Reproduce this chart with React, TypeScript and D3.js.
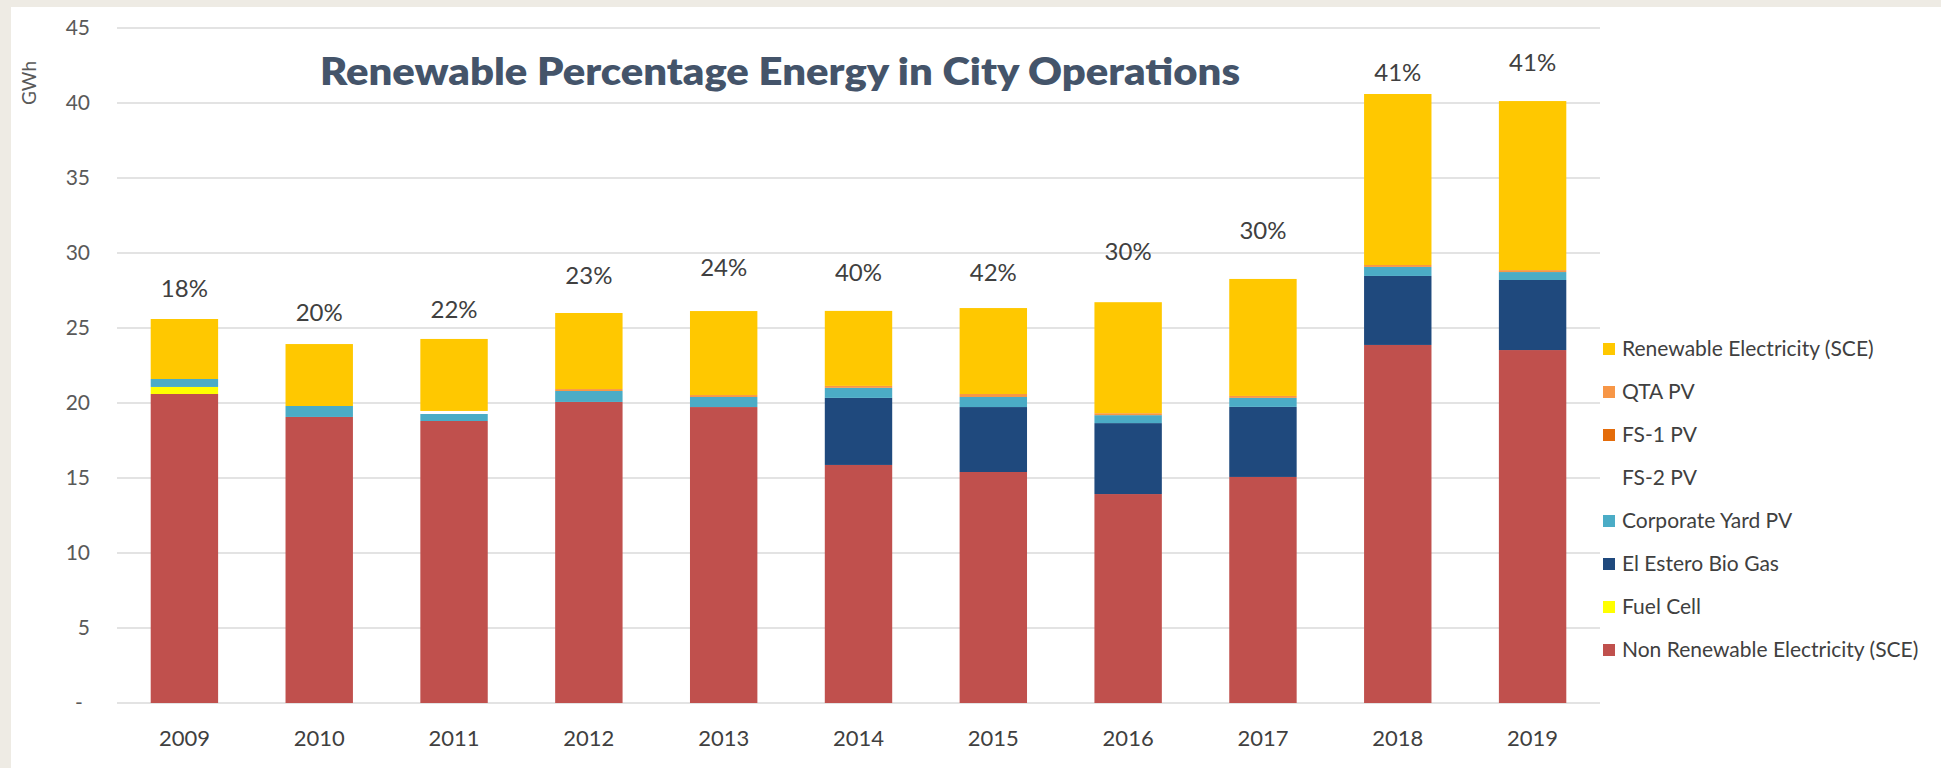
import React from "react";
import * as d3 from "d3";

const years = ["2009", "2010", "2011", "2012", "2013", "2014", "2015", "2016", "2017", "2018", "2019"];
const nonRenewable = [20.6, 19.07, 18.8, 20.07, 19.73, 15.87, 15.4, 13.93, 15.07, 23.87, 23.53];
const fuelCell = [0.47, 0, 0, 0, 0, 0, 0, 0, 0, 0, 0];
const elEstero = [0, 0, 0, 0, 0, 4.47, 4.33, 4.73, 4.67, 4.6, 4.67];
const corporateYard = [0.53, 0.73, 0.47, 0.73, 0.67, 0.67, 0.67, 0.53, 0.6, 0.6, 0.53];
const fs2 = [0, 0, 0.2, 0, 0, 0, 0, 0, 0, 0, 0];
const fs1 = [0, 0, 0, 0, 0, 0, 0, 0, 0, 0, 0];
const qta = [0, 0, 0, 0.13, 0.13, 0.13, 0.2, 0.13, 0.13, 0.13, 0.13];
const renewable = [4.0, 4.13, 4.8, 5.07, 5.6, 5.0, 5.73, 7.4, 7.8, 11.4, 11.27];

const percentLabels = ["18%", "20%", "22%", "23%", "24%", "40%", "42%", "30%", "30%", "41%", "41%"];
// label heights expressed in GWh (as placed in the source chart)
const percentLabelLevel = [27.6, 26.0, 26.2, 28.5, 29.0, 28.7, 28.7, 30.1, 31.5, 42.0, 42.7];

const yTicks = [0, 5, 10, 15, 20, 25, 30, 35, 40, 45];

const seriesNames = [
  "Non Renewable Electricity (SCE)",
  "Fuel Cell",
  "El Estero Bio Gas",
  "Corporate Yard PV",
  "FS-2 PV",
  "FS-1 PV",
  "QTA PV",
  "Renewable Electricity (SCE)",
];
const seriesValues = [nonRenewable, fuelCell, elEstero, corporateYard, fs2, fs1, qta, renewable];
const seriesColors = ["#C0504D", "#FFFF00", "#1F497D", "#4BACC6", "#FFFFFF", "#E46C0A", "#F79646", "#FFC800"];

const W = 1941;
const H = 768;

export default function App() {
  const x = d3.scaleBand<string>().domain(years).range([117, 1600]).paddingInner(0.5).paddingOuter(0.25);
  const y = d3.scaleLinear().domain([0, 45]).range([703, 28]);

  const rows = years.map((yr, i) => {
    const r: Record<string, any> = { year: yr };
    seriesNames.forEach((n, k) => (r[n] = seriesValues[k][i]));
    return r;
  });
  const stacked = d3.stack<any>().keys(seriesNames)(rows);

  const legendOrder = seriesNames.slice().reverse();
  const legendY = d3.scalePoint<string>().domain(legendOrder).range([349, 650]);

  const font = "Lato, 'Open Sans', sans-serif";

  return (
    <svg width={W} height={H} style={{ position: "absolute", left: 0, top: 0, display: "block" }}>
      <rect x={0} y={0} width={W} height={H} fill="#EEEBE4" />
      <rect x={11} y={7} width={W - 11} height={H - 7} fill="#FFFFFF" />

      {yTicks.map((t) => (
        <g key={t}>
          <line x1={117} x2={1600} y1={y(t)} y2={y(t)} stroke="#E3E3E3" strokeWidth={2} />
          <text
            x={t === 0 ? 79 : 90}
            y={y(t)}
            dy="0.35em"
            textAnchor={t === 0 ? "middle" : "end"}
            fontFamily={font}
            fontSize={21}
            fill="#595959"
          >
            {t === 0 ? "-" : t}
          </text>
        </g>
      ))}

      <text
        transform={`translate(29, 83) rotate(-90)`}
        textAnchor="middle"
        dy="0.35em"
        fontFamily={font}
        fontSize={19}
        fill="#595959"
      >
        GWh
      </text>

      {stacked.map((s, k) => (
        <g key={s.key} fill={seriesColors[k]}>
          {s.map((d, i) =>
            d[1] - d[0] > 0 ? (
              <rect
                key={i}
                x={x(years[i])!}
                width={x.bandwidth()}
                y={y(d[1])}
                height={y(d[0]) - y(d[1])}
              />
            ) : null
          )}
        </g>
      ))}

      {years.map((yr) => (
        <text
          key={yr}
          x={x(yr)! + x.bandwidth() / 2}
          y={738}
          dy="0.35em"
          textAnchor="middle"
          fontFamily={font}
          fontSize={22}
          fill="#404040"
        >
          {yr}
        </text>
      ))}

      {years.map((yr, i) => (
        <text
          key={"p" + yr}
          x={x(yr)! + x.bandwidth() / 2}
          y={y(percentLabelLevel[i])}
          dy="0.35em"
          textAnchor="middle"
          fontFamily={font}
          fontSize={24}
          fill="#404040"
        >
          {percentLabels[i]}
        </text>
      ))}

      <text
        x={320}
        y={85}
        fontFamily={font}
        fontWeight={800}
        fontSize={38}
        fill="#44546A"
        textLength={920}
        lengthAdjust="spacingAndGlyphs"
      >
        Renewable Percentage Energy in City Operations
      </text>

      {legendOrder.map((n) => {
        const k = seriesNames.indexOf(n);
        const cy = legendY(n)!;
        return (
          <g key={n}>
            {n !== "FS-2 PV" && <rect x={1603} y={cy - 6} width={12} height={12} fill={seriesColors[k]} />}
            <text x={1622} y={cy} dy="0.35em" fontFamily={font} fontSize={21} fill="#404040">
              {n}
            </text>
          </g>
        );
      })}
    </svg>
  );
}
